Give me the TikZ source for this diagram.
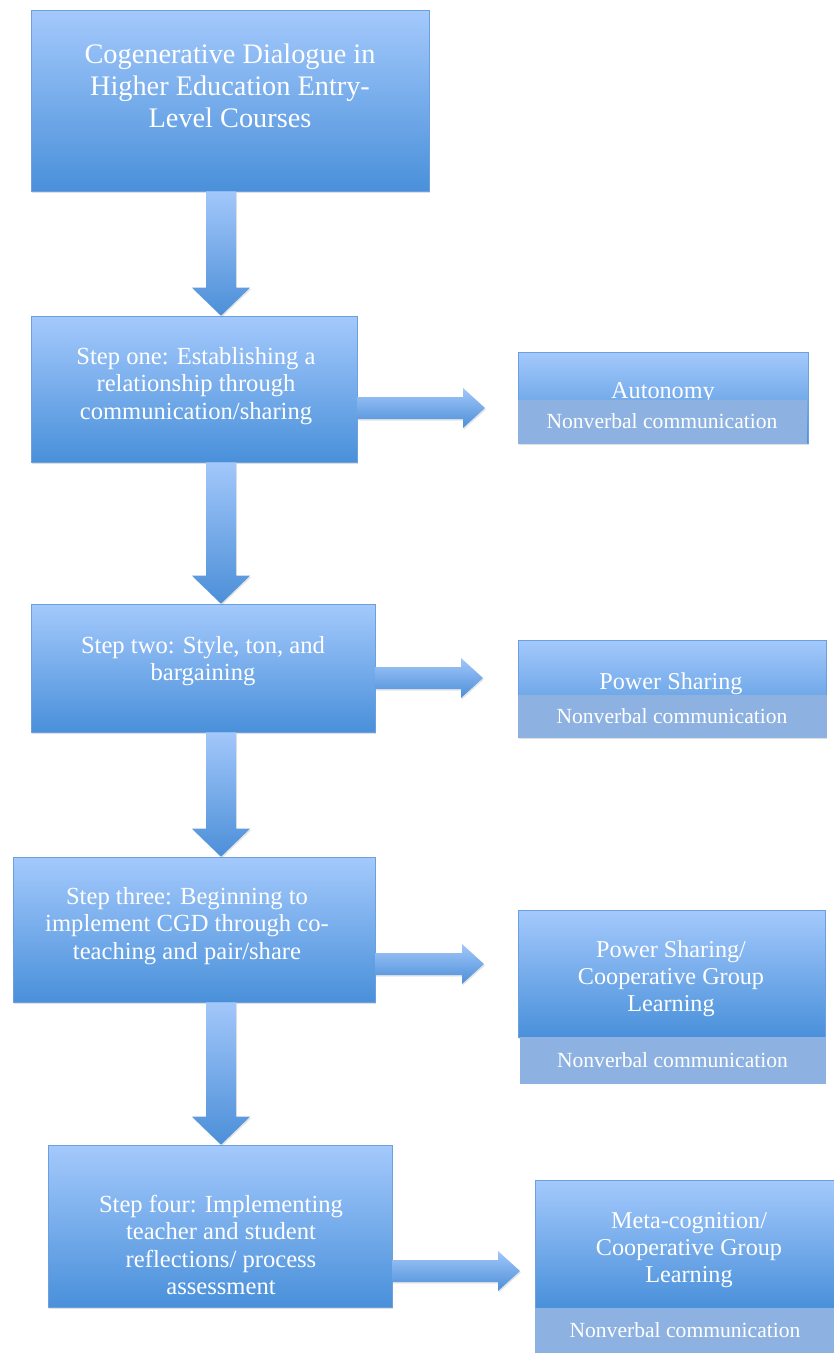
\documentclass[tikz,border=0pt]{standalone}
\usepackage{fontspec}
\setmainfont{Liberation Serif}
\usetikzlibrary{calc,shadows}
\definecolor{boxtop}{HTML}{A4C9FC}
\definecolor{boxbot}{HTML}{4990DA}
\definecolor{boxline}{HTML}{6C9FDF}
\definecolor{barfill}{HTML}{8DB2E2}
\definecolor{arrtop}{HTML}{A2C7FA}
\definecolor{arrbot}{HTML}{4C8FD8}
\newcommand{\titlefnt}{\fontsize{28.3}{32}\selectfont}
\newcommand{\stepfnt}{\fontsize{24.6}{27.5}\selectfont}
\newcommand{\sidefnt}{\fontsize{24.2}{27}\selectfont}
\newcommand{\nvfnt}{\fontsize{21.6}{24}\selectfont}
\newcommand{\blkdown}[2]{\path[blockarrow] let \p1=(#1), \p2=(#2) in
  (\x1-15pt,\y1) -- (\x1-15pt,\y2+28pt) -- (\x1-29pt,\y2+28pt) -- (\x1,\y2) --
  (\x1+29pt,\y2+28pt) -- (\x1+15pt,\y2+28pt) -- (\x1+15pt,\y1) -- cycle;}
\newcommand{\blkright}[2]{\path[blockarrow] let \p1=(#1), \p2=(#2) in
  (\x1,\y1+11pt) -- (\x2-22pt,\y1+11pt) -- (\x2-22pt,\y1+20pt) -- (\x2,\y1) --
  (\x2-22pt,\y1-20pt) -- (\x2-22pt,\y1-11pt) -- (\x1,\y1-11pt) -- cycle;}
\tikzset{
  stepbox/.style={rectangle, draw=boxline, line width=0.6pt, top color=boxtop,
    bottom color=boxbot, inner sep=0pt,
    drop shadow={opacity=0.25, shadow xshift=1pt, shadow yshift=-2pt}},
  barbox/.style={rectangle, fill=barfill, draw=barfill, inner sep=0pt,
    text=white, font=\nvfnt},
  steptext/.style={text=white, align=center, font=\stepfnt, inner sep=0pt},
  sidetext/.style={text=white, align=center, font=\sidefnt, inner sep=0pt},
  titletext/.style={text=white, align=center, font=\titlefnt, inner sep=0pt},
  blockarrow/.style={top color=arrtop, bottom color=arrbot, draw=none,
    drop shadow={opacity=0.2, shadow xshift=1pt, shadow yshift=-1.5pt}}
}
\begin{document}
\begin{tikzpicture}[x=1pt,y=-1pt]
\fill[white] (0,0) rectangle (834,1353);
\useasboundingbox (0,0) rectangle (834,1353);
\coordinate (spine) at (221,0);
% main boxes
\node[stepbox, minimum width=398pt, minimum height=181pt] (title) at (230,100.5) {};
\node[titletext] (titlet) at (230,86) {Cogenerative Dialogue in\\Higher Education Entry-\\Level Courses};
\node[stepbox, minimum width=326pt, minimum height=146pt] (s1) at (194,389) {};
\node[steptext] (s1t) at (196,386) {Step one: Establishing a\\relationship through\\communication/sharing};
\node[stepbox, minimum width=344pt, minimum height=128pt] (s2) at (203,668) {};
\node[steptext] (s2t) at (203,661) {Step two: Style, ton, and\\bargaining};
\node[stepbox, minimum width=362pt, minimum height=145pt] (s3) at (194,929.5) {};
\node[steptext] (s3t) at (187,926) {Step three: Beginning to\\implement CGD through co-\\teaching and pair/share};
\node[stepbox, minimum width=344pt, minimum height=162pt] (s4) at (220,1226) {};
\node[steptext] (s4t) at (221,1245) {Step four: Implementing\\teacher and student\\reflections/ process\\assessment};
% side boxes
\node[stepbox, minimum width=290pt, minimum height=91pt] (a) at (663,397.5) {};
\node[sidetext, anchor=base] (at) at (663,398) {Autonomy};
\node[barbox, minimum width=288pt, minimum height=43pt] (ab) at (662,421.5) {Nonverbal communication};
\node[stepbox, minimum width=308pt, minimum height=97pt] (b) at (672,688.5) {};
\node[sidetext, anchor=base] (bt) at (671,689) {Power Sharing};
\node[barbox, minimum width=308pt, minimum height=42pt] (bb) at (672,716) {Nonverbal communication};
\node[stepbox, minimum width=307pt, minimum height=127pt] (c) at (671.5,973.5) {};
\node[sidetext] (ct) at (671,979) {Power Sharing/\\Cooperative Group\\Learning};
\node[barbox, minimum width=305pt, minimum height=46pt] (cb) at (672.5,1060) {Nonverbal communication};
\node[stepbox, minimum width=300pt, minimum height=128pt] (d) at (685,1244) {};
\node[sidetext] (dt) at (689,1250) {Meta-cognition/\\Cooperative Group\\Learning};
\node[barbox, minimum width=300pt, minimum height=45pt] (db) at (685,1330.5) {Nonverbal communication};
% down arrows
\blkdown{title.south -| spine}{s1.north -| spine}
\blkdown{s1.south -| spine}{s2.north -| spine}
\blkdown{s2.south -| spine}{s3.north -| spine}
\blkdown{s3.south -| spine}{s4.north -| spine}
% right arrows
\coordinate (t1) at (485,408);
\coordinate (t2) at (483,678);
\coordinate (t3) at (484,964);
\coordinate (t4) at (520,1271);
\blkright{s1.east |- t1}{t1}
\blkright{s2.east |- t2}{t2}
\blkright{s3.east |- t3}{t3}
\blkright{s4.east |- t4}{t4}
\end{tikzpicture}
\end{document}
